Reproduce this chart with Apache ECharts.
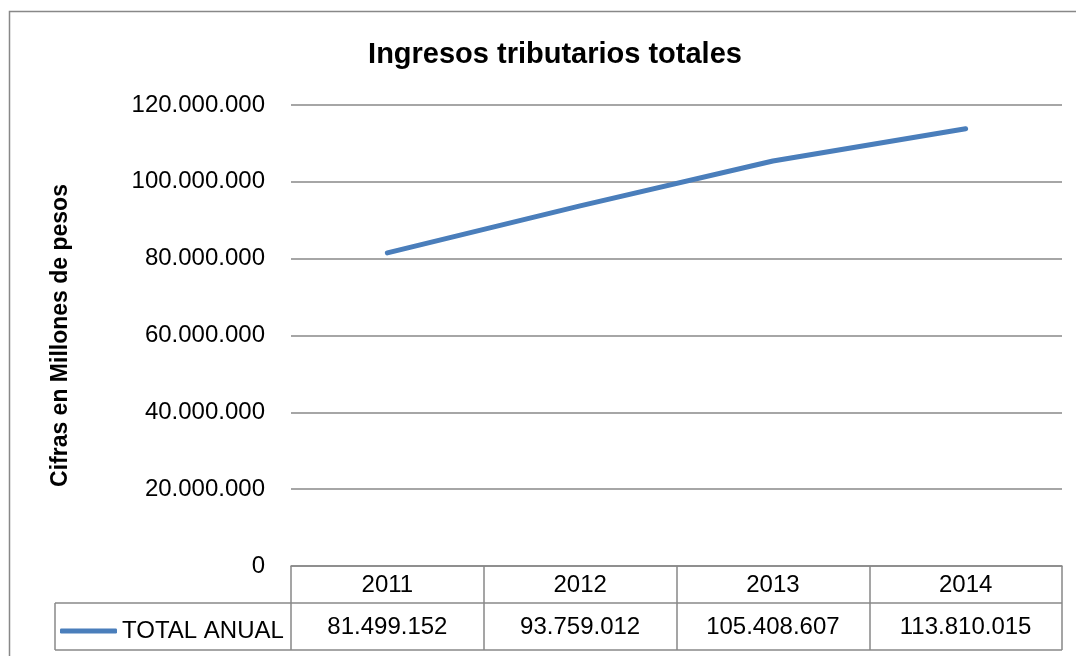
<!DOCTYPE html>
<html>
<head>
<meta charset="utf-8">
<script src="https://cdn.jsdelivr.net/npm/echarts@6/dist/echarts.min.js"></script>
<style>
  html, body { margin: 0; padding: 0; background: #fff; }
  #chart { width: 1076px; height: 656px; }
</style>
</head>
<body>
<div id="chart"></div>
<script>
const years = ['2011', '2012', '2013', '2014'];
const totalAnual = [81499152, 93759012, 105408607, 113810015];
const seriesName = 'TOTAL ANUAL';
const yTicks = [0, 20000000, 40000000, 60000000, 80000000, 100000000, 120000000];

const FONT = '"Liberation Sans", Arial, sans-serif';

function fmt(n) {
  return String(n).replace(/\B(?=(\d{3})+(?!\d))/g, '.');
}

const myChart = echarts.init(document.getElementById('chart'));

const option = {
  animation: false,
  backgroundColor: '#fff',
  title: {
    text: 'Ingresos tributarios totales',
    left: 550,
    textAlign: 'center',
    top: 35,
    textStyle: { fontFamily: FONT, fontSize: 29, fontWeight: 'bold', color: '#000' }
  },
  grid: { left: 291, right: 14, top: 105, bottom: 90 },
  legend: {
    left: 55,
    top: 614,
    icon: 'roundRect',
    itemWidth: 57,
    itemHeight: 5,
    itemGap: 0,
    textStyle: { fontFamily: FONT, fontSize: 24, color: '#000' },
    data: [seriesName]
  },
  xAxis: {
    type: 'category',
    data: years,
    boundaryGap: true,
    axisLine: { lineStyle: { color: '#888', width: 1.5 } },
    axisTick: { show: true, length: 84, lineStyle: { color: '#888', width: 1.5 } },
    axisLabel: {
      margin: 0,
      formatter: function (v, i) {
        return '{y|' + v + '}\n{v|' + fmt(totalAnual[i]) + '}';
      },
      rich: {
        y: { fontFamily: FONT, fontSize: 24, color: '#000', height: 38, lineHeight: 38 },
        v: { fontFamily: FONT, fontSize: 24, color: '#000', height: 46, lineHeight: 46 }
      }
    }
  },
  yAxis: {
    type: 'value',
    min: 0,
    max: 120000000,
    interval: 20000000,
    name: 'Cifras en Millones de pesos',
    nameLocation: 'middle',
    nameRotate: 90,
    nameGap: 219,
    nameTextStyle: { fontFamily: FONT, fontSize: 23, fontWeight: 'bold', color: '#000' },
    axisLine: { show: false },
    axisTick: { show: false },
    splitLine: { lineStyle: { color: '#888', width: 1.5 } },
    axisLabel: {
      margin: 26,
      fontFamily: FONT,
      fontSize: 24,
      color: '#000',
      formatter: function (v) { return fmt(v); }
    }
  },
  series: [{
    name: seriesName,
    type: 'line',
    data: totalAnual,
    showSymbol: false,
    symbol: 'none',
    lineStyle: { color: '#4a7ebb', width: 5, cap: 'round', join: 'round' },
    itemStyle: { color: '#4a7ebb' }
  }],
  graphic: [
    {
      type: 'rect',
      shape: { x: 9.5, y: 11.5, width: 1100, height: 700 },
      style: { fill: 'none', stroke: '#888', lineWidth: 1.5 },
      silent: true
    },
    {
      type: 'line',
      shape: { x1: 55, y1: 603, x2: 1062, y2: 603 },
      style: { stroke: '#888', lineWidth: 1.5 },
      silent: true
    },
    {
      type: 'line',
      shape: { x1: 55, y1: 650, x2: 1062, y2: 650 },
      style: { stroke: '#888', lineWidth: 1.5 },
      silent: true
    },
    {
      type: 'line',
      shape: { x1: 55, y1: 603, x2: 55, y2: 650 },
      style: { stroke: '#888', lineWidth: 1.5 },
      silent: true
    }
  ]
};

myChart.setOption(option);
window.addEventListener('resize', () => {
  myChart.resize();
});
</script>
</body>
</html>
